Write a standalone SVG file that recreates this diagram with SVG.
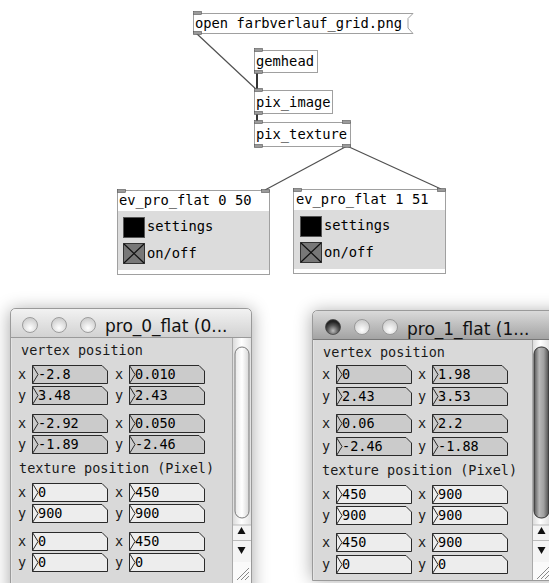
<svg xmlns="http://www.w3.org/2000/svg" width="549" height="583" viewBox="0 0 549 583">
<defs>
<style>
.pd{font-family:"DejaVu Sans Mono","Liberation Mono",monospace;font-size:13.75px;fill:#000}
.box{fill:#fff;stroke:#a0a0a0;stroke-width:1}
.io{fill:#9a9a9a;stroke:#555;stroke-width:0.6}
.wire{stroke:#505050;stroke-width:1.2;fill:none}
.wire2{stroke:#333;stroke-width:2;fill:none}
.lbl{font-family:"DejaVu Sans Mono","Liberation Mono",monospace;font-size:13.5px;fill:#1a1a1a}
.num{font-family:"DejaVu Sans Mono","Liberation Mono",monospace;font-size:13.5px;fill:#000}
.nbv{fill:#cbcbcb;stroke:#2a2a2a;stroke-width:1}
.nbt{fill:#ededed;stroke:#2a2a2a;stroke-width:1}
.title{font-family:"DejaVu Sans","Liberation Sans",sans-serif;font-size:17px;fill:#111}
.panel{fill:#d9d9d9}
.frame{stroke:#9a9a9a;stroke-width:1}
.light{stroke:#8c8c8c;stroke-width:0.8}
</style>
<g id="nb"><path d="M0.5,0.5 H70 L75.5,6 V18.5 H0.5 Z"/><path d="M0.5,0.5 L6,9.5 L0.5,18.5" fill="none"/></g>
<linearGradient id="tb1" x1="0" y1="0" x2="0" y2="1"><stop offset="0" stop-color="#f2f2f2"/><stop offset="1" stop-color="#d2d2d2"/></linearGradient>
<linearGradient id="tb2" x1="0" y1="0" x2="0" y2="1"><stop offset="0" stop-color="#dadada"/><stop offset="1" stop-color="#a3a3a3"/></linearGradient>
<radialGradient id="btn" cx="0.5" cy="0.7" r="0.6"><stop offset="0" stop-color="#ffffff"/><stop offset="1" stop-color="#d0d0d0"/></radialGradient>
<radialGradient id="btnd" cx="0.5" cy="0.75" r="0.6"><stop offset="0" stop-color="#bdbdbd"/><stop offset="0.6" stop-color="#555"/><stop offset="1" stop-color="#222"/></radialGradient>
<linearGradient id="track" x1="0" y1="0" x2="1" y2="0"><stop offset="0" stop-color="#d8d8d8"/><stop offset="0.5" stop-color="#ffffff"/><stop offset="1" stop-color="#e2e2e2"/></linearGradient>
<linearGradient id="thumb1" x1="0" y1="0" x2="1" y2="0"><stop offset="0" stop-color="#e8e8e8"/><stop offset="0.5" stop-color="#ffffff"/><stop offset="1" stop-color="#d6d6d6"/></linearGradient>
<linearGradient id="thumb2" x1="0" y1="0" x2="1" y2="0"><stop offset="0" stop-color="#555"/><stop offset="0.35" stop-color="#b8b8b8"/><stop offset="0.65" stop-color="#a0a0a0"/><stop offset="1" stop-color="#4a4a4a"/></linearGradient>
<filter id="sh" x="-0.3" y="-0.3" width="1.6" height="1.6"><feGaussianBlur stdDeviation="9"/></filter>
</defs>

<rect width="549" height="583" fill="#fff"/>

<g id="connectors">
<line class="wire" x1="196" y1="33" x2="257" y2="90"/>
<line class="wire2" x1="257" y1="72" x2="257" y2="90"/>
<line class="wire2" x1="257" y1="113" x2="257" y2="122"/>
<line class="wire" x1="347" y1="146" x2="265" y2="190"/>
<line class="wire" x1="347" y1="146" x2="441" y2="189"/>
</g>

<g id="msg-open">
<path class="box" d="M193.5,13.5 H413 L408,18.5 V28 L413,33.5 H193.5 Z"/>
<rect class="io" x="193.5" y="11.5" width="8" height="3"/>
<rect class="io" x="193.5" y="31.5" width="8" height="3"/>
<text class="pd" x="195" y="28">open farbverlauf_grid.png</text>
</g>

<g id="gemhead">
<rect class="box" x="254.5" y="50.5" width="63" height="22"/>
<rect class="io" x="254.5" y="48.5" width="8" height="3"/>
<rect class="io" x="254.5" y="70.5" width="8" height="3"/>
<text class="pd" x="256" y="66">gemhead</text>
</g>

<g id="pix_image">
<rect class="box" x="254.5" y="90.5" width="78" height="23"/>
<rect class="io" x="254.5" y="88.5" width="8" height="3"/>
<rect class="io" x="254.5" y="111.5" width="8" height="3"/>
<text class="pd" x="256" y="107">pix_image</text>
</g>

<g id="pix_texture">
<rect class="box" x="254.5" y="122.5" width="96" height="24"/>
<rect class="io" x="254.5" y="120.5" width="8" height="3"/>
<rect class="io" x="342.5" y="120.5" width="8" height="3"/>
<rect class="io" x="254.5" y="144.5" width="8" height="3"/>
<rect class="io" x="342.5" y="144.5" width="8" height="3"/>
<text class="pd" x="256" y="139">pix_texture</text>
</g>

<g id="ev_pro_flat_0">
<rect class="box" x="117.5" y="190.5" width="152" height="84"/>
<rect x="118" y="211" width="151" height="59" fill="#dcdcdc"/>
<rect class="io" x="117.5" y="189.5" width="8" height="3"/>
<rect class="io" x="261.5" y="189.5" width="8" height="3"/>
<text class="pd" x="119" y="205">ev_pro_flat 0 50</text>
<rect x="123.5" y="217.5" width="21" height="20" fill="#000" stroke="#555"/>
<text class="pd" x="147" y="231">settings</text>
<rect x="123.5" y="243.5" width="21" height="20" fill="#777" stroke="#333"/>
<path d="M124,244 L144,263 M144,244 L124,263" stroke="#111" stroke-width="1.2"/>
<text class="pd" x="147" y="258">on/off</text>
</g>

<g id="ev_pro_flat_1">
<rect class="box" x="293.5" y="189.5" width="152" height="84"/>
<rect x="294" y="210" width="151" height="59" fill="#dcdcdc"/>
<rect class="io" x="293.5" y="188.5" width="8" height="3"/>
<rect class="io" x="437.5" y="188.5" width="8" height="3"/>
<text class="pd" x="296" y="204">ev_pro_flat 1 51</text>
<rect x="300.5" y="216.5" width="21" height="20" fill="#000" stroke="#555"/>
<text class="pd" x="324" y="230">settings</text>
<rect x="300.5" y="242.5" width="21" height="20" fill="#777" stroke="#333"/>
<path d="M301,243 L321,262 M321,243 L301,262" stroke="#111" stroke-width="1.2"/>
<text class="pd" x="324" y="257">on/off</text>
</g>

<g id="window-pro_0_flat">
<rect x="10" y="310" width="242" height="290" fill="#000" opacity="0.35" filter="url(#sh)"/>
<path d="M10.5,600 V314 Q10.5,308.5 16,308.5 H246 Q251.5,308.5 251.5,314 V600 Z" fill="#e4e4e4" class="frame"/>
<path d="M11,337 V314 Q11,309 16,309 H246 Q251,309 251,314 V337 Z" fill="url(#tb1)"/>
<line x1="11" y1="337.5" x2="251" y2="337.5" stroke="#9a9a9a"/>
<circle cx="30" cy="325" r="7.5" fill="url(#btn)" class="light"/>
<circle cx="59" cy="325" r="7.5" fill="url(#btn)" class="light"/>
<circle cx="88" cy="325" r="7.5" fill="url(#btn)" class="light"/>
<text class="title" x="105" y="332">pro_0_flat (0...</text>
<rect class="panel" x="12" y="338" width="220" height="250"/>
<rect x="232" y="338" width="19" height="187" fill="url(#track)"/>
<line x1="232.5" y1="338" x2="232.5" y2="590" stroke="#aaa"/>
<rect x="235" y="347" width="14" height="171" rx="7" fill="url(#thumb1)" stroke="#7a7a7a"/>
<rect x="233" y="525" width="18" height="37" fill="#f4f4f4"/>
<line x1="233" y1="525" x2="251" y2="525" stroke="#bbb"/>
<line x1="233" y1="540.5" x2="251" y2="540.5" stroke="#bbb"/>
<path d="M241.5,527 L245.5,534 H237.5 Z" fill="#111"/>
<path d="M237.5,547 H245.5 L241.5,554 Z" fill="#111"/>
<rect x="233" y="562" width="18" height="21" fill="#fafafa"/>
<path d="M237,580 L249,568 M241,580 L249,572 M245,580 L249,576" stroke="#888" stroke-width="1"/>
<text class="lbl" x="21" y="355">vertex position</text>
<text class="lbl" x="19" y="473">texture position (Pixel)</text>
<g class="lbl">
<text x="18" y="379">x</text><text x="115" y="379">x</text>
<text x="18" y="400">y</text><text x="115" y="400">y</text>
<text x="18" y="428">x</text><text x="115" y="428">x</text>
<text x="18" y="449">y</text><text x="115" y="449">y</text>
<text x="18" y="497">x</text><text x="115" y="497">x</text>
<text x="18" y="518">y</text><text x="115" y="518">y</text>
<text x="18" y="546">x</text><text x="115" y="546">x</text>
<text x="18" y="567">y</text><text x="115" y="567">y</text>
</g>
<use href="#nb" x="32" y="365" class="nbv"/><use href="#nb" x="129" y="365" class="nbv"/>
<use href="#nb" x="32" y="386" class="nbv"/><use href="#nb" x="129" y="386" class="nbv"/>
<use href="#nb" x="32" y="414" class="nbv"/><use href="#nb" x="129" y="414" class="nbv"/>
<use href="#nb" x="32" y="435" class="nbv"/><use href="#nb" x="129" y="435" class="nbv"/>
<use href="#nb" x="32" y="483" class="nbt"/><use href="#nb" x="129" y="483" class="nbt"/>
<use href="#nb" x="32" y="504" class="nbt"/><use href="#nb" x="129" y="504" class="nbt"/>
<use href="#nb" x="32" y="532" class="nbt"/><use href="#nb" x="129" y="532" class="nbt"/>
<use href="#nb" x="32" y="553" class="nbt"/><use href="#nb" x="129" y="553" class="nbt"/>
<g class="num">
<text x="38" y="379">-2.8</text><text x="135" y="379">0.010</text>
<text x="38" y="400">3.48</text><text x="135" y="400">2.43</text>
<text x="38" y="428">-2.92</text><text x="135" y="428">0.050</text>
<text x="38" y="449">-1.89</text><text x="135" y="449">-2.46</text>
<text x="38" y="497">0</text><text x="135" y="497">450</text>
<text x="38" y="518">900</text><text x="135" y="518">900</text>
<text x="38" y="546">0</text><text x="135" y="546">450</text>
<text x="38" y="567">0</text><text x="135" y="567">0</text>
</g>
</g>

<g id="window-pro_1_flat">
<rect x="312" y="312" width="260" height="268" fill="#000" opacity="0.35" filter="url(#sh)"/>
<path d="M312.5,580.5 V316 Q312.5,310.5 318,310.5 H560 V580.5 Z" fill="#e4e4e4" class="frame"/>
<path d="M313,339 V316 Q313,311 318,311 H560 V339 Z" fill="url(#tb2)"/>
<line x1="313" y1="339.5" x2="549" y2="339.5" stroke="#777"/>
<circle cx="333" cy="327" r="7.5" fill="url(#btnd)" stroke="#444" stroke-width="0.8"/>
<circle cx="362" cy="327" r="7.5" fill="url(#btn)" class="light"/>
<circle cx="390" cy="327" r="7.5" fill="url(#btn)" class="light"/>
<text class="title" x="407" y="335">pro_1_flat (1...</text>
<rect class="panel" x="314" y="340" width="218" height="240"/>
<rect x="532" y="340" width="17" height="185" fill="url(#track)"/>
<line x1="532.5" y1="340" x2="532.5" y2="580" stroke="#aaa"/>
<rect x="534" y="347" width="15" height="171" rx="7" fill="url(#thumb2)" stroke="#333"/>
<rect x="533" y="525" width="16" height="37" fill="#f4f4f4"/>
<line x1="533" y1="525" x2="549" y2="525" stroke="#bbb"/>
<line x1="533" y1="540.5" x2="549" y2="540.5" stroke="#bbb"/>
<path d="M541.5,527 L545.5,534 H537.5 Z" fill="#111"/>
<path d="M537.5,547 H545.5 L541.5,554 Z" fill="#111"/>
<rect x="533" y="562" width="16" height="18" fill="#fafafa"/>
<path d="M537,579 L549,567 M541,579 L549,571 M545,579 L549,575" stroke="#888" stroke-width="1"/>
<text class="lbl" x="323" y="357">vertex position</text>
<text class="lbl" x="322" y="475">texture position (Pixel)</text>
<g class="lbl">
<text x="322" y="379">x</text><text x="418" y="379">x</text>
<text x="322" y="401">y</text><text x="418" y="401">y</text>
<text x="322" y="428">x</text><text x="418" y="428">x</text>
<text x="322" y="451">y</text><text x="418" y="451">y</text>
<text x="322" y="499">x</text><text x="418" y="499">x</text>
<text x="322" y="520">y</text><text x="418" y="520">y</text>
<text x="322" y="547">x</text><text x="418" y="547">x</text>
<text x="322" y="569">y</text><text x="418" y="569">y</text>
</g>
<use href="#nb" x="336" y="365" class="nbv"/><use href="#nb" x="432" y="365" class="nbv"/>
<use href="#nb" x="336" y="387" class="nbv"/><use href="#nb" x="432" y="387" class="nbv"/>
<use href="#nb" x="336" y="414" class="nbv"/><use href="#nb" x="432" y="414" class="nbv"/>
<use href="#nb" x="336" y="437" class="nbv"/><use href="#nb" x="432" y="437" class="nbv"/>
<use href="#nb" x="336" y="485" class="nbt"/><use href="#nb" x="432" y="485" class="nbt"/>
<use href="#nb" x="336" y="506" class="nbt"/><use href="#nb" x="432" y="506" class="nbt"/>
<use href="#nb" x="336" y="533" class="nbt"/><use href="#nb" x="432" y="533" class="nbt"/>
<use href="#nb" x="336" y="555" class="nbt"/><use href="#nb" x="432" y="555" class="nbt"/>
<g class="num">
<text x="342" y="379">0</text><text x="438" y="379">1.98</text>
<text x="342" y="401">2.43</text><text x="438" y="401">3.53</text>
<text x="342" y="428">0.06</text><text x="438" y="428">2.2</text>
<text x="342" y="451">-2.46</text><text x="438" y="451">-1.88</text>
<text x="342" y="499">450</text><text x="438" y="499">900</text>
<text x="342" y="520">900</text><text x="438" y="520">900</text>
<text x="342" y="547">450</text><text x="438" y="547">900</text>
<text x="342" y="569">0</text><text x="438" y="569">0</text>
</g>
</g>
</svg>
